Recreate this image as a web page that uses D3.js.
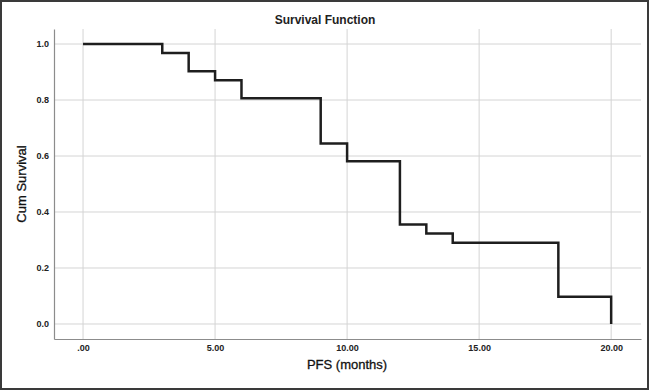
<!DOCTYPE html>
<html>
<head>
<meta charset="utf-8">
<script src="https://cdn.jsdelivr.net/npm/d3@7"></script>
<style>
  body { margin: 0; background: #fff; }
  svg { display: block; font-family: "Liberation Sans", Arial, sans-serif; }
</style>
</head>
<body>
<div id="chart"></div>
<script>
// Kaplan-Meier step data (PFS in months, cumulative survival)
const times    = [0, 3, 4, 5, 6, 9, 10, 12, 13, 14, 18, 20]
const survival = [1.0, 0.968, 0.903, 0.871, 0.806, 0.645, 0.581, 0.355, 0.323, 0.290, 0.097, 0.0]
const xTicks = [0, 5, 10, 15, 20]
const yTicks = [0, 0.2, 0.4, 0.6, 0.8, 1.0]

const width = 649, height = 390
// plot box
const plotLeft = 54, plotRight = 641, plotTop = 29, plotBottom = 339

let svg = d3.select("#chart")
  .append("svg")
  .attr("width", width)
  .attr("height", height)

//outer frame
svg.append("rect")
  .attr("x", 1)
  .attr("y", 1)
  .attr("width", width - 2)
  .attr("height", height - 2)
  .attr("fill", "#fff")
  .attr("stroke", "#3a3a3a")
  .attr("stroke-width", 2)

let x = d3.scaleLinear()
  .domain([-1.1, 21.13])
  .range([plotLeft, plotRight])

let y = d3.scaleLinear()
  .domain([-0.0536, 1.0536])
  .range([plotBottom, plotTop])

//grid lines
svg.append("g")
  .selectAll("line")
  .data(xTicks)
  .enter().append("line")
  .attr("x1", d => x(d)).attr("x2", d => x(d))
  .attr("y1", plotTop).attr("y2", plotBottom)
  .attr("stroke", "#d4d4d4")
  .attr("stroke-width", 1)

svg.append("g")
  .selectAll("line")
  .data(yTicks)
  .enter().append("line")
  .attr("x1", plotLeft).attr("x2", plotRight)
  .attr("y1", d => y(d)).attr("y2", d => y(d))
  .attr("stroke", "#d4d4d4")
  .attr("stroke-width", 1)

//axes
svg.append("g")
  .attr("transform", "translate(0," + plotBottom + ")")
  .call(d3.axisBottom(x).tickValues(xTicks).tickSize(0).tickPadding(6)
    .tickFormat(d => d == 0 ? ".00" : d3.format(".2f")(d)))
svg.append("g")
  .attr("transform", "translate(" + plotLeft + ",0)")
  .call(d3.axisLeft(y).tickValues(yTicks).tickSize(0).tickPadding(5)
    .tickFormat(d3.format(".1f")))

svg.selectAll(".domain").attr("stroke", "#8c8c8c").attr("stroke-width", 1.2)
svg.selectAll(".tick text")
  .style("font-size", "9px")
  .style("font-weight", "bold")
  .style("font-family", "'Liberation Sans Narrow', 'Liberation Sans', Arial, sans-serif")
  .attr("fill", "#222")

//survival step line
let line = d3.line()
  .x(d => x(d[0]))
  .y(d => y(d[1]))
  .curve(d3.curveStepAfter)

svg.append("path")
  .datum(times.map((t, i) => [t, survival[i]]))
  .attr("d", line)
  .attr("fill", "none")
  .attr("stroke", "#1e1e1e")
  .attr("stroke-width", 2.5)

//titles
svg.append("text")
  .text("Survival Function")
  .attr("x", 325)
  .attr("y", 24)
  .style("text-anchor", "middle")
  .style("font-size", "12px")
  .style("font-weight", "bold")
  .attr("fill", "#222")

svg.append("text")
  .text("PFS (months)")
  .attr("x", 347)
  .attr("y", 369)
  .style("text-anchor", "middle")
  .style("font-size", "13px")
  .attr("fill", "#111")
  .attr("stroke", "#111")
  .attr("stroke-width", 0.3)

svg.append("text")
  .text("Cum Survival")
  .attr("transform", "translate(26,184) rotate(-90)")
  .style("text-anchor", "middle")
  .style("font-size", "13px")
  .attr("fill", "#111")
  .attr("stroke", "#111")
  .attr("stroke-width", 0.3)
</script>
</body>
</html>
